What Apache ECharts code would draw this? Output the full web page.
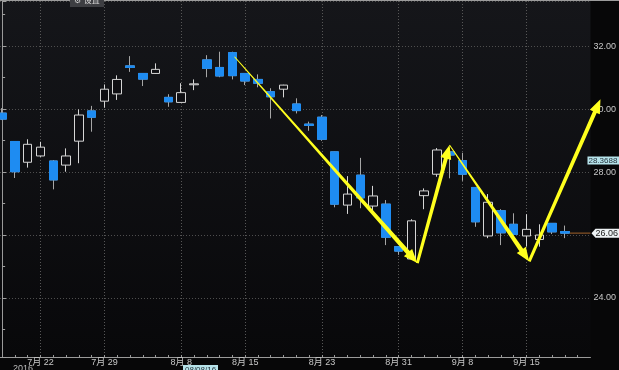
<!DOCTYPE html>
<html><head><meta charset="utf-8">
<script src="https://cdn.jsdelivr.net/npm/echarts@6/dist/echarts.min.js"></script>
<style>html,body{margin:0;padding:0;background:#070708}#c{width:619px;height:370px}</style>
</head><body><div id="c"></div>
<script>
// ---- data ----
const days   = ['7/19','7/20','7/21','7/22','7/25','7/26','7/27','7/28','7/29','8/1','8/2','8/3','8/4','8/5','8/8','8/9','8/10','8/11','8/12','8/15','8/16','8/17','8/18','8/19','8/22','8/23','8/24','8/25','8/26','8/29','8/30','8/31','9/1','9/2','9/6','9/7','9/8','9/9','9/12','9/13','9/14','9/15','9/16','9/19','9/20'];
const openP  = [29.87,28.97,28.31,28.51,28.35,28.22,28.98,29.94,30.25,30.48,31.37,31.13,31.13,30.37,30.21,30.77,31.56,31.32,31.79,31.13,30.94,30.55,30.63,30.16,29.52,29.74,28.64,26.95,27.90,26.92,26.98,25.63,25.24,27.25,27.93,28.64,28.36,27.51,25.97,26.77,26.34,25.97,25.86,26.37,26.11];
const highP  = [30.03,28.98,29.04,28.96,28.38,28.75,29.99,30.10,30.78,31.07,31.68,31.14,31.45,30.47,30.82,30.94,31.71,31.82,31.82,31.14,31.10,30.66,30.77,30.34,29.60,29.81,28.65,27.87,28.45,27.56,27.11,25.65,26.50,27.48,28.76,28.76,28.61,27.52,27.30,26.82,26.69,26.66,26.34,26.38,26.30];
const lowP   = [29.65,27.81,28.14,28.48,27.45,28.01,28.28,29.28,30.04,30.29,31.18,30.73,31.12,30.07,30.20,30.60,31.01,31.01,30.94,30.76,30.69,29.70,30.37,29.86,29.31,28.99,26.88,26.67,26.85,26.76,25.68,25.37,25.23,26.82,27.85,27.80,27.72,26.26,25.90,25.68,26.00,25.63,25.63,26.03,25.90];
const closeP = [29.68,28.01,28.88,28.79,27.75,28.51,29.81,29.74,30.63,30.94,31.32,30.95,31.26,30.23,30.52,30.80,31.29,31.05,31.06,30.89,30.82,30.39,30.76,29.95,29.48,29.04,26.98,27.30,27.18,27.24,25.93,25.49,26.45,27.40,28.70,28.54,27.93,26.42,27.04,26.07,26.02,26.18,26.00,26.10,26.06];

const xTickDays   = ['7/22','7/29','8/8','8/15','8/23','8/31','9/8','9/15'];
const xTickLabels = ['7月 22','7月 29','8月 8','8月 15','8月 23','8月 31','9月 8','9月 15'];
const yTickValues = [24, 26, 28, 30, 32];
const lastPrice = 26.06;
const refPrice  = 28.3688;
const yearLabel = '2016';
const cursorDate = '08/08/16';
const toolLabel = '⚙ 设置';

// yellow annotation arrows, in (trading-day index, price)
const arrowFromDay   = [18.17, 32.46, 34.98, 41.21];
const arrowFromPrice = [31.66, 25.11, 28.86, 25.16];
const arrowToDay     = [32.46, 34.98, 41.21, 46.78];
const arrowToPrice   = [25.11, 28.86, 25.16, 30.31];

// ---- styles ----
const arrowShape = [
  {w0: 1, w1: 4.5, head: 14, headW: 11},
  {w0: 3, w1: 4, head: 14, headW: 11},
  {w0: 1, w1: 4.5, head: 14, headW: 11},
  {w0: 3, w1: 4, head: 14, headW: 11}
];
const FONT = 'Liberation Sans, Arial, Noto Sans CJK SC, sans-serif';
const X_MIN = -0.167, X_MAX = 46.0, Y_MIN = 22.127, Y_MAX = 33.43;

const candleData = days.map((d, i) => [i, openP[i], closeP[i], lowP[i], highP[i]]);
const downBodies = days.map((d, i) => i).filter(i => closeP[i] < openP[i])
  .map(i => [i, openP[i], closeP[i], closeP[i], openP[i]]);
const labelIdx = xTickDays.map(d => days.indexOf(d));
const labelMap = {};
labelIdx.forEach((v, k) => { labelMap[v] = xTickLabels[k]; });
const dayTicks = [];
for (let k = 0; k <= days.length; k++) dayTicks.push(k);
const arrows = arrowFromDay.map((d, i) => [d, arrowFromPrice[i], arrowToDay[i], arrowToPrice[i]]);
const lastIdx = days.length - 1;

function renderArrow(params, api) {
  const a = api.coord([api.value(0), api.value(1)]);
  const b = api.coord([api.value(2), api.value(3)]);
  const st = arrowShape[params.dataIndex];
  const dx = b[0] - a[0], dy = b[1] - a[1], len = Math.hypot(dx, dy);
  const ux = dx / len, uy = dy / len, nx = -uy, ny = ux;
  const bx = b[0] - ux * st.head, by = b[1] - uy * st.head;
  const pts = [
    [a[0] + nx * st.w0 / 2, a[1] + ny * st.w0 / 2],
    [bx + nx * st.w1 / 2, by + ny * st.w1 / 2],
    [bx + nx * st.headW / 2, by + ny * st.headW / 2],
    [b[0], b[1]],
    [bx - nx * st.headW / 2, by - ny * st.headW / 2],
    [bx - nx * st.w1 / 2, by - ny * st.w1 / 2],
    [a[0] - nx * st.w0 / 2, a[1] - ny * st.w0 / 2]
  ];
  return {type: 'polygon', shape: {points: pts}, style: {fill: '#ffff1e'}};
}

function renderLastTag(params, api) {
  const p = api.coord([api.value(0), api.value(1)]);
  const right = params.coordSys.x + params.coordSys.width;
  const y = p[1];
  return {type: 'group', children: [
    {type: 'line', shape: {x1: p[0] + 5, y1: y, x2: right, y2: y}, style: {stroke: '#8a5526', lineWidth: 1.2}},
    {type: 'polygon', shape: {points: [[right + 1, y], [right + 5, y - 4.5], [right + 40, y - 4.5], [right + 40, y + 4.5], [right + 5, y + 4.5]]},
      style: {fill: '#eef2f4'}},
    {type: 'text', style: {text: api.value(1).toFixed(2), x: right + 5, y: y + 0.5, fill: '#1a1a1a', fontSize: 9, fontFamily: FONT, verticalAlign: 'middle', align: 'left'}}
  ]};
}

function renderRefTag(params, api) {
  const p = api.coord([api.value(0), api.value(1)]);
  const right = params.coordSys.x + params.coordSys.width;
  const y = p[1];
  return {type: 'group', children: [
    {type: 'rect', shape: {x: right - 3, y: y - 4, width: 40, height: 8}, style: {fill: '#b6e3ea'}},
    {type: 'text', style: {text: String(refPrice), x: right - 2, y: y + 0.5, fill: '#24313a', fontSize: 8, fontFamily: FONT, verticalAlign: 'middle', align: 'left'}}
  ]};
}

const chart = echarts.init(document.getElementById('c'), null, {renderer: 'canvas'});
chart.setOption({
  animation: false,
  backgroundColor: '#070708',
  grid: {left: 0, right: 26, top: 1, bottom: 13, show: true, borderWidth: 0,
    backgroundColor: {type: 'linear', x: 0, y: 0, x2: 0, y2: 1,
      colorStops: [{offset: 0, color: '#15161a'}, {offset: 1, color: '#08080a'}]}},
  xAxis: [{
    type: 'value', min: X_MIN, max: X_MAX, position: 'bottom',
    axisLine: {show: true, onZero: false, lineStyle: {color: '#9a9a9a'}},
    axisTick: {show: false, customValues: labelIdx},
    axisLabel: {customValues: labelIdx, formatter: v => labelMap[v] || '', color: '#c8c8c8', fontSize: 9, fontFamily: FONT, margin: 1},
    splitLine: {show: true, lineStyle: {color: '#575757', type: [1, 2]}}
  }, {
    type: 'value', min: X_MIN, max: X_MAX, position: 'bottom',
    axisLine: {show: false, onZero: false},
    axisTick: {show: true, inside: true, length: 2, customValues: dayTicks, lineStyle: {color: '#9a9a9a'}},
    axisLabel: {show: false},
    splitLine: {show: false}
  }],
  yAxis: {
    type: 'value', position: 'right', min: Y_MIN, max: Y_MAX, splitNumber: 5,
    axisLine: {show: true, lineStyle: {color: '#9a9a9a'}},
    axisTick: {show: true, length: 4, lineStyle: {color: '#a0a0a0'}},
    minorTick: {show: true, splitNumber: 2, length: 3, lineStyle: {color: '#a0a0a0'}},
    axisLabel: {color: '#c8c8c8', fontSize: 9, fontFamily: FONT, margin: 3, showMinLabel: false, showMaxLabel: false,
      formatter: v => (yTickValues.some(t => Math.abs(t - v) < 1e-6) && Math.abs(v - lastPrice) > 0.5) ? v.toFixed(2) : ''},
    splitLine: {show: true, lineStyle: {color: '#4e4e4e', type: [1, 2]}}
  },
  series: [{
    type: 'candlestick', xAxisIndex: 0, data: candleData, barWidth: 9, z: 3,
    itemStyle: {color: '#0f0f13', borderColor: '#d6d6d6', color0: '#1e8cf2', borderColor0: '#a6a6a6', borderWidth: 1}
  }, {
    type: 'candlestick', xAxisIndex: 0, data: downBodies, barWidth: 9, z: 4,
    itemStyle: {color: '#1e8cf2', borderColor: '#1e8cf2', color0: '#1e8cf2', borderColor0: '#1e8cf2', borderWidth: 1}
  }, {
    type: 'custom', xAxisIndex: 0, data: arrows, renderItem: renderArrow, clip: false, z: 10, silent: true
  }, {
    type: 'custom', xAxisIndex: 0, data: [[lastIdx, lastPrice]], renderItem: renderLastTag, clip: false, z: 11, silent: true
  }, {
    type: 'custom', xAxisIndex: 0, data: [[lastIdx, refPrice]], renderItem: renderRefTag, clip: false, z: 11, silent: true
  }],
  graphic: [
    {type: 'line', shape: {x1: 0, y1: 0.5, x2: 619, y2: 0.5}, style: {stroke: '#9c9c9c', lineWidth: 1}, z: 20},
    {type: 'rect', shape: {x: 70, y: -3, width: 34, height: 10}, style: {fill: '#3d3e42'}, z: 20},
    {type: 'text', x: 74, y: -3, style: {text: toolLabel, fill: '#dddddd', fontSize: 8, fontFamily: 'DejaVu Sans, Noto Sans CJK SC'}, z: 21},
    {type: 'text', x: 13, y: 364, style: {text: yearLabel, fill: '#bdbdbd', fontSize: 9, fontFamily: FONT}, z: 20},
    {type: 'rect', shape: {x: 183, y: 365, width: 35, height: 9}, style: {fill: '#b6e3ea'}, z: 20},
    {type: 'text', x: 185, y: 366, style: {text: cursorDate, fill: '#24313a', fontSize: 8, fontFamily: FONT}, z: 21}
  ]
});
</script></body></html>
